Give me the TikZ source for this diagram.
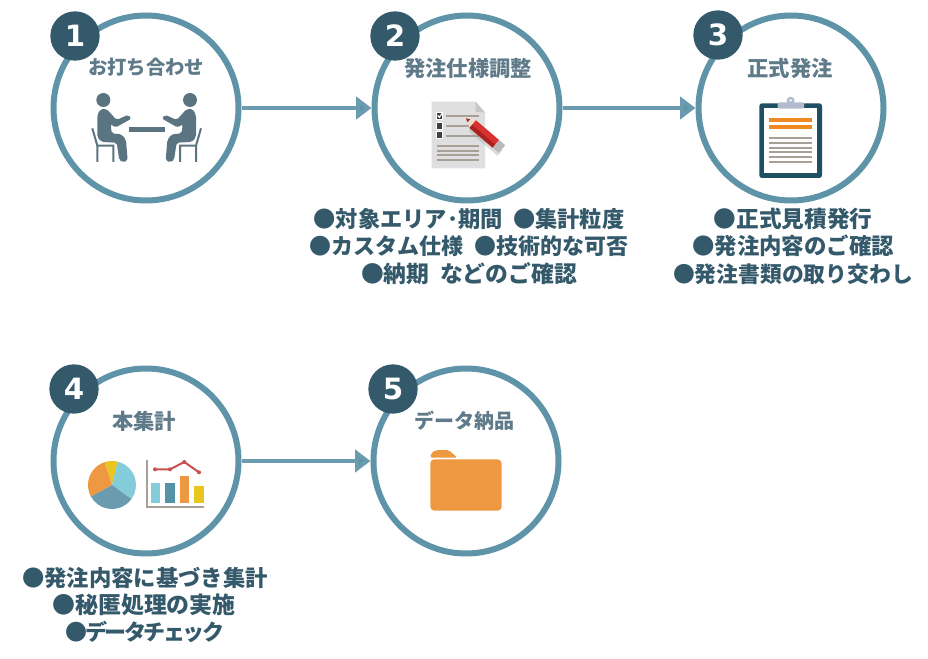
\documentclass[tikz,border=0pt]{standalone}
\usepackage{fontspec}
\usetikzlibrary{arrows.meta}
\newfontfamily\cjk{Noto Sans CJK JP}
\newfontfamily\cjktight{Noto Sans CJK JP}[LetterSpace=-11]
\newfontfamily\numfont{DejaVu Sans}
\definecolor{ringc}{HTML}{5E93A8}
\definecolor{arrowc}{HTML}{6A9BAE}
\definecolor{badgec}{HTML}{33596B}
\definecolor{titlec}{HTML}{5F7A88}
\definecolor{iconc}{HTML}{5B7482}
\definecolor{linec}{HTML}{A89F97}
\definecolor{orangec}{HTML}{EF9842}
\definecolor{orangeb}{HTML}{EF8A22}
\definecolor{clipc}{HTML}{B3BCCF}
\definecolor{boardc}{HTML}{1F4F63}
\definecolor{yellowc}{HTML}{E8C61E}
\definecolor{skyc}{HTML}{84CCD9}
\definecolor{steelc}{HTML}{6B9BAE}
\definecolor{barc}{HTML}{5793A8}
\definecolor{redc}{HTML}{C9504E}
\definecolor{pencilc}{HTML}{D8312E}
\definecolor{pencild}{HTML}{A82222}
\tikzset{
 x=0.75pt,y=-0.75pt,
 ringnode/.style={circle,draw=ringc,line width=4.5pt,minimum size=138.75pt,inner sep=0pt,fill=white},
 badge/.style={circle,fill=badgec,minimum size=37pt,inner sep=0pt,text=white,font=\numfont\bfseries\fontsize{22pt}{22pt}\selectfont},
 title/.style={text=titlec,inner sep=0pt,font=\cjk\bfseries\fontsize{#1}{#1}\selectfont},
 title/.default=16pt,
 bullet/.style={text=badgec,inner sep=0pt,font=\cjk\bfseries\fontsize{#1}{#1}\selectfont},
 bullet/.default=16pt,
 flow/.style={draw=arrowc,line width=3pt,-{Triangle[length=11.5pt,width=16.5pt,fill=ringc]}},
 zoomed/.style={x=0.25pt,y=-0.25pt}
}
\begin{document}
\begin{tikzpicture}
\useasboundingbox (0,0) rectangle (928,659);
% rings
\node[ringnode] (c1) at (146,108) {};
\node[ringnode] (c2) at (467,108) {};
\node[ringnode] (c3) at (791,108) {};
\node[ringnode] (c4) at (146,461) {};
\node[ringnode] (c5) at (466,461) {};
% connectors
\draw[flow] (c1) -- (c2);
\draw[flow] (c2) -- (c3);
\draw[flow] (c4) -- (c5);
% badges
\node[badge] (b1) at (75,36) {1};
\node[badge] (b2) at (395,36) {2};
\node[badge] (b3) at (718,35) {3};
\node[badge] (b4) at (74,389) {4};
\node[badge] (b5) at (393,389) {5};
% titles
\node[title=14.5pt] (t1) at (146,67) {お打ち合わせ};
\node[title=16pt] (t2) at (468,68) {発注仕様調整};
\node[title=16pt] (t3) at (790,68) {正式発注};
\node[title=16pt] (t4) at (144,421) {本集計};
\node[title=15pt] (t5) at (464,421) {データ納品};
% bullets
\node[bullet=16.7pt] (l1) at (469,219) {●対象エリア･期間\ \ ●集計粒度};
\node[bullet=16.5pt] (l2) at (469,246) {●カスタム仕様\ \ ●技術的な可否};
\node[bullet=17.1pt] (l3) at (469,274) {●納期\ \ などのご確認};
\node[bullet=17pt] (l4) at (793,219) {●正式見積発行};
\node[bullet=16.8pt] (l5) at (793,246) {●発注内容のご確認};
\node[bullet=16.35pt] (l6) at (793,274) {●発注書類の取り交わし};
\node[bullet=16.75pt] (l7) at (145,578) {●発注内容に基づき集計};
\node[bullet=17.2pt] (l8) at (144,605) {●秘匿処理の実施};
\node[bullet=16.5pt] (l9) at (145,632) {\cjktight ●データチェック};
% icon 1
\begin{scope}[shift={(40,0)},zoomed]
 \foreach \s/\o in {1/0,-1/640}{
 \begin{scope}[shift={(\o,0)},xscale=\s]
  \fill[iconc] (190,300) circle (21);
  \fill[iconc,rounded corners=1.5pt] (172,345) -- (182,327) -- (200,327) -- (230,360) -- (265,344) -- (274,356) -- (226,383) -- (212,372) -- (215,400) -- (245,403) -- (258,420) -- (263,482) -- (247,487) -- (238,480) -- (230,428) -- (185,426) -- (172,412) -- cycle;
  \draw[iconc,line width=1.5pt] (157,385) -- (172,437) -- (220,437) -- (220,486) (172,437) -- (172,486);
 \end{scope}}
 \fill[iconc] (266,382) rectangle (374,396);
\end{scope}
% icon 2
\begin{scope}[shift={(360,0)},zoomed]
 \fill[gray!25] (215,305) -- (347,305) -- (375,338) -- (375,505) -- (215,505) -- cycle;
 \fill[gray!45] (347,305) -- (375,338) -- (347,335) -- cycle;
 \foreach \y in {347,377,406}{
  \fill[white] (227,\y-12) rectangle (250,\y+12);
  \fill[black!75] (230,\y-9) rectangle (247,\y+9);
  \draw[linec,line width=1.3pt] (258,\y+1) -- (358,\y+1);
 }
 \draw[white,line width=.8pt] (233,346) -- (238,352) -- (246,340);
 \foreach \y in {437,452,466,481}{\draw[linec,line width=1.5pt] (230,\y) -- (358,\y);}
 \begin{scope}[shift={(318,355)},rotate=-40.5]
  \fill[black!35,opacity=.4] (30,2) rectangle (145,24);
  \fill[pencilc] (24,-15) rectangle (118,15);
  \fill[pencild] (24,3) rectangle (118,15);
  \fill[gray!55] (118,-15) rectangle (142,15);
  \fill[brown!30] (0,0) -- (26,-15) -- (26,15) -- cycle;
  \fill[pencild] (0,0) -- (11,-6) -- (11,6) -- cycle;
 \end{scope}
\end{scope}
% icon 3
\begin{scope}[shift={(680,0)},zoomed]
 \fill[boardc,rounded corners=2pt] (238,310) rectangle (426,534);
 \fill[white] (253,323) rectangle (412,520);
 \fill[clipc] (332,302) circle (12);
 \fill[white] (332,301) circle (4);
 \fill[clipc,rounded corners=1pt] (293,307) rectangle (372,326);
 \fill[orangeb] (268,353) rectangle (397,367);
 \fill[orangeb] (268,374) rectangle (397,388);
 \foreach \y in {414,428,443,457,472,487}{\draw[linec,line width=1.4pt] (268,\y) -- (397,\y);}
\end{scope}
% icon 4
\begin{scope}[shift={(40,360)},zoomed]
 \fill[yellowc] (216,375) -- ++(-108:72) arc[start angle=-108,end angle=-76,radius=72] -- cycle;
 \fill[skyc] (216,375) -- ++(-76:72) arc[start angle=-76,end angle=36,radius=72] -- cycle;
 \fill[steelc] (216,375) -- ++(36:72) arc[start angle=36,end angle=152,radius=72] -- cycle;
 \fill[orangec] (216,375) -- ++(152:72) arc[start angle=152,end angle=252,radius=72] -- cycle;
 \draw[linec,line width=1.5pt] (320,300) -- (320,442) -- (492,442);
 \fill[skyc] (332,370) rectangle (360,430);
 \fill[barc] (376,370) rectangle (404,430);
 \fill[orangec] (419,348) rectangle (447,430);
 \fill[yellowc] (463,377) rectangle (491,430);
 \draw[redc,line width=1.5pt] (345,328) -- (390,328) -- (433,306) -- (477,337);
 \foreach \p in {(345,328),(390,328),(433,306),(477,337)}{\fill[redc] \p circle (6);}
\end{scope}
% icon 5
\begin{scope}[shift={(360,360)},zoomed]
 \fill[orangec,rounded corners=1.5pt] (211,293) -- (213,280) -- (228,270) -- (266,270) -- (292,293) -- cycle;
 \fill[orangec,rounded corners=3pt] (211,298) rectangle (425,452);
\end{scope}
\end{tikzpicture}
\end{document}
